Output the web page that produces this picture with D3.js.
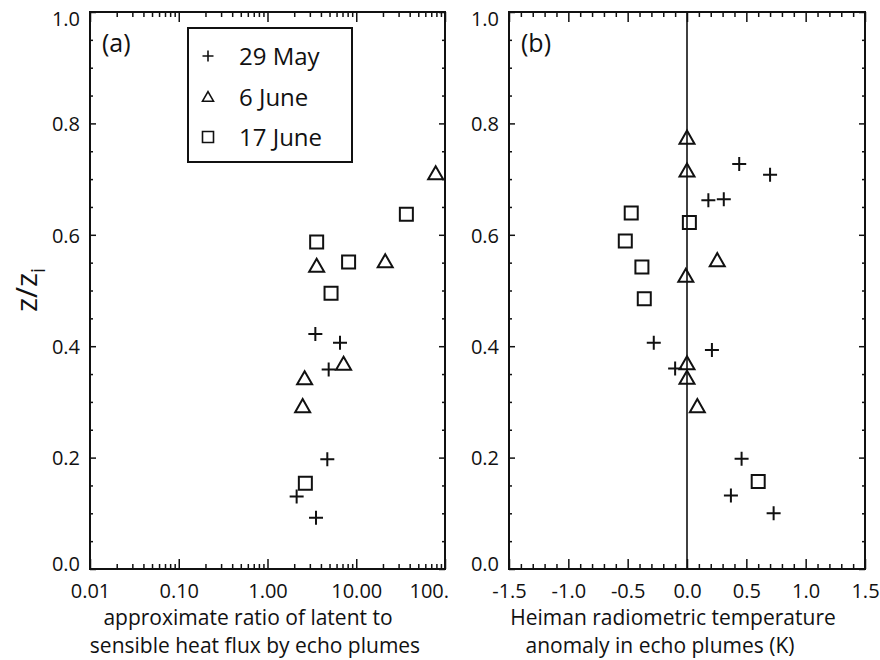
<!DOCTYPE html>
<html>
<head>
<meta charset="utf-8">
<script src="https://cdn.jsdelivr.net/npm/d3@7"></script>
<style>
  body { margin: 0; background: #fff; }
  svg text { font-family: "Open Sans", sans-serif; fill: #111; }
</style>
</head>
<body>
<div class="display"></div>
<script>
// z/zi profiles of echo-plume properties, three flight days

const WIDTH = 880;
const HEIGHT = 660;

// panel (a): latent / sensible heat flux ratio
const plusA_x = [3.46, 6.56, 4.89, 4.72, 2.13, 3.52];
const plusA_z = [0.422, 0.406, 0.358, 0.197, 0.130, 0.092];
const triA_x = [78.5, 3.58, 21.2, 7.2, 2.62, 2.49];
const triA_z = [0.711, 0.545, 0.553, 0.369, 0.343, 0.293];
const sqA_x = [36.7, 3.58, 8.2, 5.2, 2.67];
const sqA_z = [0.637, 0.587, 0.551, 0.495, 0.154];

// panel (b): radiometric temperature anomaly (K)
const plusB_x = [0.44, 0.70, 0.18, 0.31, -0.28, 0.21, -0.10, 0.46, 0.37, 0.73];
const plusB_z = [0.727, 0.708, 0.662, 0.664, 0.406, 0.393, 0.360, 0.198, 0.132, 0.100];
const triB_x = [0.0, 0.0, 0.255, -0.01, 0.0, 0.0, 0.087];
const triB_z = [0.775, 0.716, 0.555, 0.527, 0.370, 0.344, 0.293];
const sqB_x = [-0.47, 0.02, -0.52, -0.38, -0.36, 0.60];
const sqB_z = [0.639, 0.622, 0.589, 0.542, 0.485, 0.157];

const legendLabels = ['29 May', '6 June', '17 June'];
const legendTypes = ['plus', 'tri', 'sq'];

const yTicks = [0, 0.2, 0.4, 0.6, 0.8, 1.0];
const yLabels = ['0.0', '0.2', '0.4', '0.6', '0.8', '1.0'];
const xTicksA = [0.01, 0.1, 1, 10, 100];
const xLabelsA = ['0.01', '0.10', '1.00', '10.00', '100.'];
const xTicksB = [-1.5, -1.0, -0.5, 0.0, 0.5, 1.0, 1.5];
const xLabelsB = ['-1.5', '-1.0', '-0.5', '0.0', '0.5', '1.0', '1.5'];

const TOP = 12, BOTTOM = 569;

const svg = d3.select('.display')
  .append('svg')
  .attr('width', WIDTH)
  .attr('height', HEIGHT);

const y = d3.scaleLinear().domain([0, 1]).range([BOTTOM, TOP]);
const xA = d3.scaleLog().domain([0.01, 100]).range([90, 445]);
const xB = d3.scaleLinear().domain([-1.5, 1.5]).range([509, 865]);

const yMinor = d3.range(0, 21).map(i => i * 0.05).filter(v => Math.abs(v * 5 - Math.round(v * 5)) > 1e-6);
const xMinorA = [];
[0.01, 0.1, 1, 10].forEach(d => { for (let k = 2; k <= 9; k++) xMinorA.push(d * k); });
const xMinorB = d3.range(-15, 16).map(i => i / 10).filter(v => Math.abs(v * 2 - Math.round(v * 2)) > 1e-6);

function markerPath(type, s) {
  const h = s / 2;
  if (type === 'plus') return `M${-h},0H${h}M0,${-h}V${h}`;
  if (type === 'tri') return `M0,${-h * 0.9}L${h},${h * 0.85}L${-h},${h * 0.85}Z`;
  return `M${-h},${-h}H${h}V${h}H${-h}Z`;
}

function drawPanel(x, opts) {
  const g = svg.append('g');
  const [x0, x1] = x.range();

  // ticks (all pointing inward)
  const addAxis = (axis, tx, ty) => {
    const a = g.append('g').attr('transform', `translate(${tx},${ty})`).call(axis);
    a.select('.domain').remove();
    a.selectAll('line').attr('stroke', '#111').attr('stroke-width', 1.5);
    return a;
  };

  addAxis(d3.axisBottom(x).tickValues(opts.minor).tickSize(-5).tickFormat(''), 0, BOTTOM);
  addAxis(d3.axisTop(x).tickValues(opts.minor).tickSize(-5).tickFormat(''), 0, TOP);
  addAxis(d3.axisTop(x).tickValues(opts.ticks).tickSize(-10).tickFormat(''), 0, TOP);
  const bx = addAxis(d3.axisBottom(x).tickValues(opts.ticks).tickSize(-10).tickPadding(15)
    .tickFormat((d, i) => opts.labels[i]), 0, BOTTOM);
  bx.selectAll('text').attr('font-size', 20).attr('fill', '#111');
  if (opts.lastLabelStart) {
    bx.selectAll('.tick:last-of-type text').attr('text-anchor', 'start').attr('x', -36);
  }

  addAxis(d3.axisLeft(y).tickValues(yMinor).tickSize(-3).tickFormat(''), x0, 0);
  addAxis(d3.axisRight(y).tickValues(yMinor).tickSize(-3).tickFormat(''), x1, 0);
  addAxis(d3.axisRight(y).tickValues(yTicks).tickSize(-6).tickFormat(''), x1, 0);
  const ly = addAxis(d3.axisLeft(y).tickValues(yTicks).tickSize(-6).tickPadding(10)
    .tickFormat((d, i) => yLabels[i]), x0, 0);
  ly.selectAll('text').attr('font-size', 20).attr('fill', '#111')
    .attr('dy', d => d === 1 ? '0.68em' : d === 0 ? '0.08em' : '0.36em');

  // frame
  g.append('rect')
    .attr('x', x0).attr('y', TOP)
    .attr('width', x1 - x0).attr('height', BOTTOM - TOP)
    .attr('fill', 'none').attr('stroke', '#111').attr('stroke-width', 2);

  if (opts.zeroLine) {
    g.append('line')
      .attr('x1', x(0)).attr('x2', x(0))
      .attr('y1', TOP).attr('y2', BOTTOM)
      .attr('stroke', '#111').attr('stroke-width', 1.6);
  }

  g.append('text')
    .attr('x', x0 + 12).attr('y', 52)
    .attr('font-size', 25)
    .text(opts.tag);

  // axis title, two lines
  opts.title.forEach((t, i) => {
    g.append('text')
      .attr('x', opts.titleX[i]).attr('y', 625 + i * 28)
      .attr('text-anchor', 'middle')
      .attr('font-size', 21)
      .text(t);
  });

  // data
  opts.series.forEach(s => {
    g.selectAll(null)
      .data(s.x.map((v, i) => ({ v, z: s.z[i] })))
      .enter()
      .append('path')
      .attr('transform', d => `translate(${x(d.v)},${y(d.z)})`)
      .attr('d', markerPath(s.type, s.type === 'plus' ? 14 : s.type === 'tri' ? 15 : 13))
      .attr('fill', 'none')
      .attr('stroke', '#111')
      .attr('stroke-width', 2);
  });
}

drawPanel(xA, {
  ticks: xTicksA, labels: xLabelsA, minor: xMinorA, tag: '(a)', lastLabelStart: true,
  title: ['approximate ratio of latent to', 'sensible heat flux by echo plumes'],
  titleX: [248, 255],
  series: [
    { type: 'plus', x: plusA_x, z: plusA_z },
    { type: 'tri', x: triA_x, z: triA_z },
    { type: 'sq', x: sqA_x, z: sqA_z }
  ]
});

drawPanel(xB, {
  ticks: xTicksB, labels: xLabelsB, minor: xMinorB, tag: '(b)', zeroLine: true,
  title: ['Heiman radiometric temperature', 'anomaly in echo plumes (K)'],
  titleX: [673, 660],
  series: [
    { type: 'plus', x: plusB_x, z: plusB_z },
    { type: 'tri', x: triB_x, z: triB_z },
    { type: 'sq', x: sqB_x, z: sqB_z }
  ]
});

// legend in panel (a)
const legend = svg.append('g');
legend.append('rect')
  .attr('x', 188).attr('y', 28).attr('width', 164).attr('height', 134)
  .attr('fill', '#fff').attr('stroke', '#111').attr('stroke-width', 2);
const legendRowY = d3.scalePoint().domain(legendLabels).range([56, 137]);
legendLabels.forEach((lab, i) => {
  legend.append('path')
    .attr('transform', `translate(208,${legendRowY(lab)})`)
    .attr('d', markerPath(legendTypes[i], 11))
    .attr('fill', 'none').attr('stroke', '#111').attr('stroke-width', 1.6);
  legend.append('text')
    .attr('x', 239).attr('y', legendRowY(lab) + 9)
    .attr('font-size', 24)
    .text(lab);
});

// y title: z/z_i
const yt = svg.append('text')
  .attr('transform', 'translate(37,290) rotate(-90)')
  .attr('text-anchor', 'middle')
  .attr('font-size', 30);
yt.append('tspan').text('z/z');
yt.append('tspan').attr('font-size', 20).attr('dy', 8).text('i');
</script>
</body>
</html>
